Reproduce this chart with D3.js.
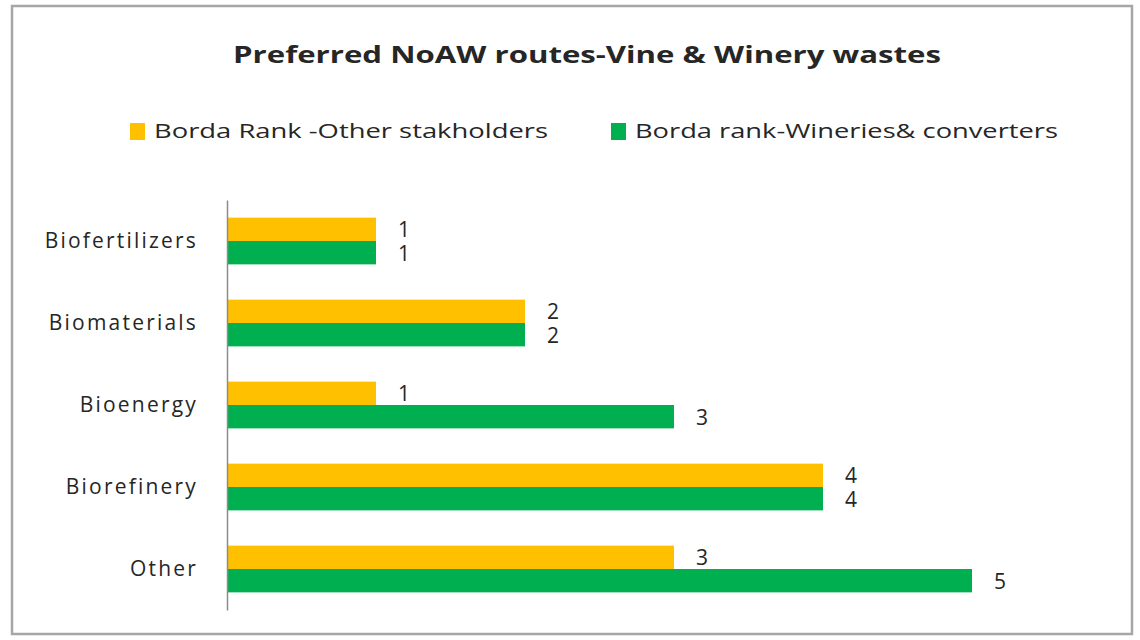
<!DOCTYPE html>
<html>
<head>
<meta charset="utf-8">
<script src="https://cdn.jsdelivr.net/npm/d3@7"></script>
<style>
  body { margin: 0; background: #fff; }
  text { font-family: "Open Sans", "Noto Sans", sans-serif; fill: #262626; }
</style>
</head>
<body>
<div id="chart"></div>
<script>
// Data
const categories = ["Biofertilizers", "Biomaterials", "Bioenergy", "Biorefinery", "Other"];
const seriesNames = ["Borda Rank -Other stakholders", "Borda rank-Wineries& converters"];
const otherStakeholders = [1, 2, 1, 4, 3];
const wineriesConverters = [1, 2, 3, 4, 5];
const seriesColors = ["#FFC000", "#00B050"];

const W = 1140, H = 640;

let svg = d3.select("#chart").append("svg")
    .attr("width", W)
    .attr("height", H);

// Outer chart border
svg.append("rect")
    .attr("x", 12).attr("y", 6)
    .attr("width", W - 20).attr("height", H - 12)
    .attr("fill", "#fff")
    .attr("stroke", "#a6a6a6")
    .attr("stroke-width", 2.5);

// Title
svg.append("text")
    .attr("x", 587).attr("y", 63)
    .attr("text-anchor", "middle")
    .attr("font-size", 23)
    .attr("font-weight", "bold")
    .attr("textLength", 708)
    .attr("lengthAdjust", "spacingAndGlyphs")
    .text("Preferred NoAW routes-Vine & Winery wastes");

// Scales
let x = d3.scaleLinear()
    .domain([0, 5])
    .range([227, 972]);

let y = d3.scaleBand()
    .domain(categories)
    .range([200, 610])
    .paddingInner(0.43)
    .paddingOuter(0.215);

let ySub = d3.scaleBand()
    .domain([0, 1])
    .range([0, y.bandwidth()]);

// Legend
let legendX = [130, 611];
let legendTextW = [394, 423];
seriesNames.forEach(function (name, i) {
    svg.append("rect")
        .attr("x", legendX[i]).attr("y", 123)
        .attr("width", 15).attr("height", 17)
        .attr("fill", seriesColors[i]);
    svg.append("text")
        .attr("x", legendX[i] + 24).attr("y", 138)
        .attr("font-size", 20)
        .attr("textLength", legendTextW[i])
        .attr("lengthAdjust", "spacingAndGlyphs")
        .text(name);
});

let rows = categories.map(function (c, i) {
    return {cat: c, vals: [otherStakeholders[i], wineriesConverters[i]]};
});

let groups = svg.selectAll(".grp")
    .data(rows)
    .enter().append("g")
    .attr("class", "grp")
    .attr("transform", d => "translate(0," + y(d.cat) + ")");

groups.selectAll("rect")
    .data(d => d.vals.map((v, k) => ({v: v, k: k})))
    .enter().append("rect")
    .attr("x", x(0))
    .attr("y", d => ySub(d.k))
    .attr("width", d => x(d.v) - x(0))
    .attr("height", ySub.bandwidth())
    .attr("fill", d => seriesColors[d.k]);

groups.selectAll(".lbl")
    .data(d => d.vals.map((v, k) => ({v: v, k: k})))
    .enter().append("text")
    .attr("class", "lbl")
    .attr("x", d => x(d.v) + 22)
    .attr("y", d => ySub(d.k) + ySub.bandwidth() / 2 + 8)
    .attr("font-size", 21)
    .text(d => d.v);

// Category axis
let yAxis = d3.axisLeft(y).tickSize(0).tickPadding(29);
let gy = svg.append("g")
    .attr("transform", "translate(" + x(0) + ",0)")
    .call(yAxis);
gy.select(".domain").attr("stroke", "#8c8c8c").attr("stroke-width", 1.5);
gy.selectAll("text")
    .attr("font-size", 21)
    .attr("fill", "#262626")
    .style("letter-spacing", "2.2px")
    .style("font-family", "'Open Sans', 'Noto Sans', sans-serif");
</script>
</body>
</html>
